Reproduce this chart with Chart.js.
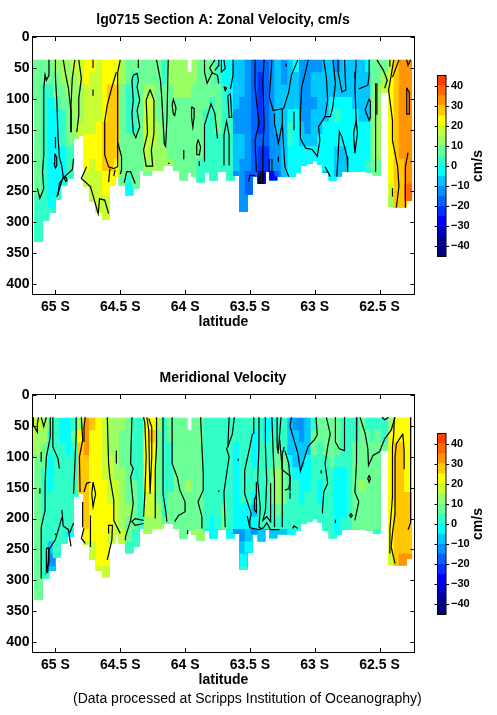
<!DOCTYPE html>
<html>
<head>
<meta charset="utf-8">
<script src="https://cdn.jsdelivr.net/npm/chart.js@4"></script>
<style>
  body { margin: 0; background: #fff; }
  #page { position: relative; width: 497px; height: 715px; overflow: hidden; }
  canvas { position: absolute; }
  #note { position: absolute; left: 73px; top: 690px; font: 14px "Liberation Sans", sans-serif; white-space: nowrap; }
</style>
</head>
<body>
<div id="page">
  <canvas id="zonal-chart" width="446" height="345" style="left:0;top:0"></canvas>
  <canvas id="zonal-bar" width="67" height="345" style="left:430px;top:0"></canvas>
  <canvas id="meridional-chart" width="446" height="345" style="left:0;top:358px"></canvas>
  <canvas id="meridional-bar" width="67" height="345" style="left:430px;top:358px"></canvas>
  <div id="note">(Data processed at Scripps Institution of Oceanography)</div>
</div>
<script>
const latTicks = [65, 64.5, 64, 63.5, 63, 62.5];
const depthTicks = [0, 50, 100, 150, 200, 250, 300, 350, 400];
const speedTicks = [-40, -30, -20, -10, 0, 10, 20, 30, 40];

// colour bands, 5 cm/s each, from -45 up to 45
const bandColors = ["#00007d", "#000096", "#0000c8", "#0000ff", "#0032ff", "#0064ff", "#0096ff", "#00c8ff", "#00ffff",
  "#32ffc8", "#6bff96", "#9bff64", "#c8ff32", "#ffff00", "#ffc800", "#ff9500", "#ff6a00", "#ff4000"];

// station latitudes and the depth where the data stops at each one
const lats = [65.17, 65.13, 65.08, 65.03, 64.99, 64.94, 64.89, 64.85, 64.80, 64.75, 64.71, 64.66, 64.61, 64.57, 64.52, 64.48,
  64.43, 64.38, 64.34, 64.29, 64.25, 64.20, 64.15, 64.11, 64.06, 64.01, 63.97, 63.92, 63.88, 63.83, 63.78, 63.74,
  63.69, 63.65, 63.60, 63.55, 63.51, 63.46, 63.41, 63.37, 63.32, 63.28, 63.23, 63.18, 63.14, 63.09, 63.05, 63.00,
  62.95, 62.91, 62.86, 62.82, 62.77, 62.72, 62.68, 62.63, 62.58, 62.54, 62.52, 62.46, 62.40, 62.36, 62.32, 62.28];
const floors = [100, 332, 297, 285, 264, 240, 230, 165, 160, 243, 267, 285, 295, 240, 226, 240,
  256, 245, 216, 224, 216, 216, 208, 208, 216, 232, 220, 226, 235, 220, 232, 218,
  218, 232, 225, 283, 255, 226, 237, 218, 232, 226, 226, 226, 220, 208, 205, 200,
  206, 220, 232, 226, 218, 218, 218, 218, 220, 218, 225, 90, 275, 276, 276, 265];
const rowDepths = [37, 57, 77, 97, 117, 137, 157, 177, 197, 217, 237, 257, 277, 297, 317];

// velocity per station, top row first
const zonal = [
  [7,7,7,7],
  [7,7,7,7,7,7,7,7,7,7,7,2,2,2,2],
  [7,7,2,2,2,2,2,2,2,2,2,2,2],
  [7,7,2,-2,-2,-2,-2,-2,-2,-2,-2,-2,2],
  [12,7,7,2,-2,-2,-2,-2,-2,-2,-2,2],
  [12,12,7,7,2,2,2,-2,-2,-2,2],
  [12,12,12,7,7,7,7,2,2,2],
  [17,12,12,12,12,12,12],
  [17,17,12,12,12,17,17],
  [22,22,17,17,17,17,22,22,22,17,17],
  [22,17,17,17,17,17,22,22,17,17,17,17],
  [17,17,17,17,17,22,22,22,22,17,17,17,17],
  [22,22,22,22,22,27,27,27,27,22,22,17,17],
  [22,22,27,27,27,27,27,27,27,22,22],
  [22,22,27,27,27,27,27,27,22,22],
  [12,12,7,7,7,7,7,7,7,7,7],
  [7,7,2,2,2,2,7,7,7,2,-2],
  [7,2,2,2,2,2,7,7,7,7,7],
  [7,7,7,7,7,7,7,7,7],
  [7,7,12,17,17,17,17,17,12,7],
  [7,7,12,17,17,17,17,12,12],
  [7,7,7,7,7,12,12,12,12],
  [2,2,7,7,7,7,7,12,12],
  [12,12,7,7,7,7,7,7,12],
  [12,12,12,7,7,7,7,7,7],
  [12,12,12,7,7,7,7,7,7,7],
  [null,12,12,7,7,7,7,7,7,7],
  [12,12,7,7,7,7,7,7,7,7],
  [7,7,7,7,7,7,7,7,2,2],
  [7,7,7,7,2,2,2,2,2,2],
  [7,7,7,2,2,2,2,2,2,2],
  [2,2,7,7,7,7,2,2,2,2],
  [-2,-2,2,2,2,2,2,2,2,2],
  [-2,-2,-2,-2,2,2,2,2,2,2],
  [-7,-7,-7,-7,-12,-12,-7,-7,-7,-12],
  [-7,-7,-7,-12,-12,-12,-7,-7,-12,-12,-12,-12,-12],
  [-12,-12,-12,-12,-12,-12,-12,-12,-12,-17,-17],
  [-17,-17,-17,-17,-17,-17,-17,-17,-17,-17],
  [-17,-22,-22,-22,-22,-22,-17,-22,-22,-32],
  [-17,-17,-17,-17,-17,-17,-17,-22,-22,-22],
  [-12,-12,-12,-12,-12,-12,-12,-12,-12,-27],
  [-7,-7,-7,-7,-7,-7,-12,-12,-12,-17],
  [-12,-12,-7,-7,-7,-7,-7,-7,-7,-7],
  [-7,-7,-7,-7,-2,2,2,-2,-2,-2],
  [-2,-7,-7,-7,-2,-2,-2,-2,-2,-2],
  [-12,-12,-12,-12,-12,-7,-7,-2,-2],
  [-12,-12,-12,-12,-12,-12,-7,-2,-2],
  [-12,-7,-7,-12,-7,-7,-7,-2,-2],
  [-12,-7,-7,-7,-7,-7,-2,-2,-2],
  [-7,-7,-7,-7,-7,-2,-2,-2,-2,-7],
  [-7,-7,-7,-2,-2,-2,-2,-2,-2,-2],
  [-12,-7,-7,-2,2,-2,-2,-7,-7,-7],
  [-7,-7,-7,-2,-2,-2,-2,-7,-7,-7],
  [-7,-7,-7,-2,-2,-2,-2,-2,-2,-2],
  [-7,-7,-7,-7,-2,-2,-2,-2,-2,-2],
  [-7,-7,-7,-7,-7,-2,-2,-2,-2,-2],
  [-2,-7,-7,-7,-7,-2,-2,-2,2,2],
  [7,7,7,7,7,7,7,7,7,7],
  [7,7,12,12,12,12,12,12,7,7],
  [7,12,17],
  [17,22,22,22,22,22,22,22,22,22,17,12,12],
  [27,27,27,27,27,27,27,27,27,27,27,27,22],
  [32,32,32,32,32,32,32,32,27,27,27,27,27],
  [32,32,32,32,32,32,32,32,32,32,37,37],
];

const meridional = [
  [17,17,12,7],
  [17,12,12,7,7,7,7,7,7,7,7,7,7,7,7],
  [12,12,7,7,2,2,2,2,2,2,2,2,2],
  [7,2,2,-2,-2,-2,2,2,2,2,-7,-12,-7],
  [2,2,2,2,2,2,2,2,2,2,2,2],
  [-2,-2,2,2,2,2,2,2,2,2,2],
  [-2,-2,-2,2,2,2,2,2,2,-2],
  [2,7,2,2,2,2,2],
  [12,22,27,27,27,27,27],
  [32,32,32,27,27,27,27,27,27,22,17],
  [27,22,22,22,22,22,22,22,22,22,17,17],
  [22,22,22,22,22,22,22,22,22,22,22,22,17],
  [17,17,17,17,17,22,22,22,22,22,22,22,17],
  [12,12,12,17,17,17,17,22,22,17,17],
  [12,12,12,12,12,17,17,17,17,17],
  [12,7,7,7,12,12,12,12,12,17,17],
  [7,7,7,7,7,7,7,12,7,7,2],
  [2,2,2,2,2,7,7,7,7,2,2],
  [2,2,2,2,2,2,2,2,2],
  [22,22,22,22,22,22,17,17,12,12],
  [22,27,22,22,22,22,17,17,12],
  [12,7,7,7,7,7,7,12,12],
  [2,2,2,2,2,2,2,2,7],
  [7,7,2,2,2,2,7,7,7],
  [7,7,7,7,7,7,7,7,7],
  [7,7,7,7,7,7,7,7,7,7],
  [null,7,7,7,7,12,7,7,7,7],
  [7,7,7,7,7,7,7,7,7,12],
  [7,7,7,7,7,7,7,7,7,12],
  [2,2,2,2,2,2,2,2,2,-2],
  [2,2,2,2,2,2,2,2,-2,-2],
  [2,2,2,2,2,2,2,2,2,-2],
  [2,2,2,2,2,2,2,7,7,-2],
  [2,2,2,2,2,2,2,2,2,-2],
  [2,2,-2,-2,-2,-2,-2,-2,-2,-12],
  [2,2,2,2,2,2,2,-2,-2,-12,-7,-2,2],
  [2,2,2,2,2,2,2,-2,-2,-7,-2],
  [2,-2,-2,-2,2,2,-2,-7,-2,-12],
  [2,2,2,2,2,2,2,2,2,-7],
  [-2,-2,2,2,2,2,2,2,2,-12],
  [-2,2,2,2,7,7,7,2,2,-7],
  [2,2,7,7,12,12,12,7,2,-7],
  [2,2,2,7,7,7,7,2,2,-7],
  [-7,-7,-7,-2,2,2,2,2,2,-2],
  [-12,-7,-7,-7,-2,2,2,2,2,-2],
  [-12,-12,-7,-7,-2,-2,-2,2,2],
  [-7,-7,-7,-2,-2,-2,2,2,2],
  [2,7,7,2,2,2,2,2,2],
  [7,7,2,2,2,-2,-2,2,2],
  [7,7,7,2,2,2,2,2,2,2],
  [7,7,7,7,2,2,2,2,2,2],
  [7,7,7,2,-2,-2,-2,-2,-2,-2],
  [2,2,2,2,-2,-2,-2,-2,2,2],
  [2,2,2,2,2,2,2,2,2,2],
  [2,2,7,7,7,7,7,7,7,2],
  [7,7,7,7,7,12,7,7,7,7],
  [2,7,7,7,7,7,7,7,7,7],
  [2,2,7,7,7,7,7,7,7,7],
  [2,7,7,7,7,7,7,7,7,2],
  [2,2,7],
  [12,22,22,22,22,22,22,22,22,22,22,17,17],
  [22,22,27,27,27,27,27,27,27,27,27,27,22],
  [22,22,27,27,27,27,27,27,27,27,27,32,27],
  [22,22,22,22,22,22,27,27,27,27,27,32],
];

// contour lines as [latitude, depth] pairs
const zonalContours = [
  [[65.05,37],[65.05,62],[65.07,70],[65.08,61],[65.09,84],[65.09,121],[65.09,164],[65.09,191],[65.10,218],[65.09,245],[65.12,261],[65.14,245]],
  [[65.00,37],[65.00,65],[64.99,102],[64.98,162],[64.97,194],[64.95,210],[64.94,226],[64.99,259]],
  [[65.00,162],[65.00,180]],
  [[65.005,189],[64.99,195],[64.99,208],[65.00,212],[65.01,205],[65.005,189]],
  [[64.94,37],[64.92,62],[64.90,83],[64.88,121],[64.88,154]],
  [[64.85,37],[64.87,67],[64.88,110],[64.88,154]],
  [[64.82,37],[64.80,67],[64.82,100],[64.82,127],[64.835,154]],
  [[64.86,197],[64.87,215],[64.93,226],[64.97,237],[64.98,256]],
  [[64.92,226],[64.91,232],[64.92,234],[64.93,230],[64.92,226]],
  [[64.71,37],[64.71,50]],
  [[64.71,85],[64.71,95]],
  [[64.53,57],[64.56,78],[64.60,110],[64.62,137],[64.62,164],[64.62,191],[64.59,210],[64.55,213],[64.52,210],[64.52,170]],
  [[64.50,37],[64.52,57],[64.52,170],[64.49,194],[64.49,215],[64.50,222]],
  [[64.58,213],[64.59,235]],
  [[64.54,215],[64.55,225]],
  [[64.76,210],[64.80,229],[64.73,242],[64.67,286],[64.66,262],[64.62,264],[64.59,286]],
  [[64.47,236],[64.45,218],[64.42,218],[64.385,237]],
  [[64.40,62],[64.37,59],[64.36,70],[64.37,81],[64.35,102],[64.37,119],[64.35,145],[64.38,163],[64.40,154],[64.41,124],[64.40,102],[64.41,70],[64.40,62]],
  [[64.27,85],[64.24,102],[64.24,156],[64.26,183],[64.25,209],[64.30,209],[64.32,183],[64.29,156],[64.30,102],[64.27,85]],
  [[64.36,37],[64.36,50]],
  [[64.22,37],[64.19,70],[64.18,97],[64.16,173],[64.15,177],[64.14,135],[64.13,37]],
  [[64.10,110],[64.09,101],[64.07,115],[64.08,127],[64.09,125],[64.10,110]],
  [[63.95,113],[63.93,116],[63.93,130],[63.94,146],[63.95,130],[63.95,113]],
  [[63.90,166],[63.88,178],[63.89,191],[63.91,190],[63.91,175],[63.90,166]],
  [[64.01,183],[64.01,198]],
  [[64.12,204],[64.13,205]],
  [[63.89,201],[63.89,209]],
  [[63.85,202],[63.85,143],[63.80,108],[63.77,124],[63.75,164]],
  [[63.85,37],[63.85,57],[63.83,75],[63.79,58],[63.75,62],[63.74,75]],
  [[63.79,58],[63.81,50],[63.77,37]],
  [[63.77,54],[63.74,46],[63.74,37]],
  [[63.72,37],[63.72,57],[63.69,51],[63.70,37]],
  [[63.63,37],[63.63,62],[63.65,84]],
  [[63.70,80],[63.68,83],[63.69,87],[63.70,80]],
  [[63.67,95],[63.65,92],[63.64,130],[63.66,130],[63.67,95]],
  [[63.70,208],[63.70,159],[63.68,136],[63.66,159],[63.66,208]],
  [[63.46,37],[63.46,81],[63.43,140],[63.46,167],[63.45,218]],
  [[63.39,37],[63.40,75],[63.39,140],[63.40,183],[63.40,232]],
  [[63.33,37],[63.35,97],[63.32,119],[63.25,116],[63.25,140],[63.28,172],[63.31,140],[63.31,124]],
  [[63.22,43],[63.22,48]],
  [[63.13,37],[63.18,62],[63.20,89],[63.24,116]],
  [[63.25,140],[63.24,178],[63.23,210],[63.20,226]],
  [[63.16,121],[63.16,151]],
  [[63.28,194],[63.28,202]],
  [[63.35,197],[63.35,218],[63.33,218],[63.33,197]],
  [[63.51,234],[63.50,224],[63.46,224]],
  [[63.43,222],[63.40,222],[63.40,237],[63.43,237],[63.43,222]],
  [[63.42,222],[63.42,237]],
  [[63.05,37],[63.07,56],[63.10,81],[63.11,124],[63.11,164],[63.07,180],[63.02,182],[62.98,193],[62.96,167],[62.97,145],[62.92,129],[62.88,129],[62.86,113],[62.84,75],[62.86,37]],
  [[62.93,37],[62.91,65],[62.90,102],[62.92,129]],
  [[62.82,37],[62.82,56],[62.79,89],[62.76,86],[62.77,37]],
  [[62.68,37],[62.69,81],[62.68,135],[62.70,156],[62.69,188],[62.67,156],[62.68,135]],
  [[62.66,84],[62.59,78],[62.58,62],[62.58,37]],
  [[62.58,100],[62.61,118],[62.58,135],[62.57,130],[62.57,105],[62.58,100]],
  [[62.69,56],[62.69,67]],
  [[62.52,75],[62.52,126]],
  [[62.53,75],[62.53,120],[62.53,218]],
  [[62.52,37],[62.47,54],[62.44,70],[62.46,83]],
  [[62.39,37],[62.41,62],[62.43,86],[62.40,135],[62.40,167],[62.36,210],[62.35,242],[62.37,276]],
  [[62.42,37],[62.42,48]],
  [[62.35,37],[62.40,65]],
  [[62.29,37],[62.28,46],[62.26,37]],
  [[62.29,82],[62.27,90],[62.27,125],[62.29,125],[62.29,82]],
  [[62.28,187],[62.30,210],[62.30,245],[62.30,276]],
  [[62.40,245],[62.40,258]],
  [[62.83,226],[62.82,194],[62.81,153],[62.79,162],[62.75,194],[62.745,218]],
  [[62.92,210],[62.88,226]],
];

const meridionalContours = [
  [[65.17,36],[65.17,49],[65.14,60],[65.14,47],[65.13,36]],
  [[65.11,36],[65.09,51],[65.07,36]],
  [[65.04,36],[65.04,68],[65.07,100],[65.08,143],[65.08,187],[65.11,214],[65.11,267],[65.11,297]],
  [[65.11,92],[65.11,108]],
  [[65.12,151],[65.12,160]],
  [[65.02,36],[65.02,84],[64.98,103],[64.97,119]],
  [[64.84,36],[64.84,63],[64.86,160]],
  [[64.80,36],[64.79,73],[64.815,100],[64.81,157]],
  [[64.77,36],[64.78,52],[64.78,76]],
  [[64.79,173],[64.79,214]],
  [[64.78,216],[64.80,232],[64.77,240]],
  [[64.73,195],[64.73,246]],
  [[64.71,141],[64.69,160],[64.71,181],[64.72,160],[64.71,141]],
  [[64.78,157],[64.76,143],[64.73,141]],
  [[64.60,36],[64.59,111],[64.58,133],[64.55,170],[64.55,203],[64.50,224]],
  [[64.59,224],[64.59,211],[64.56,211],[64.565,235],[64.60,267]],
  [[64.53,90],[64.53,111]],
  [[64.41,36],[64.42,111],[64.40,119],[64.42,133],[64.40,176],[64.42,203],[64.46,230],[64.46,235]],
  [[64.32,203],[64.385,200],[64.41,205],[64.385,211],[64.32,208]],
  [[64.32,36],[64.31,46],[64.30,100],[64.31,160],[64.32,197]],
  [[64.295,36],[64.28,57],[64.275,117],[64.27,160],[64.257,100],[64.257,52],[64.28,38]],
  [[64.22,36],[64.22,84],[64.23,120],[64.23,170],[64.23,200]],
  [[64.17,36],[64.17,84],[64.17,160],[64.15,187],[64.14,205]],
  [[64.10,36],[64.10,63],[64.10,111],[64.06,133],[64.04,154],[64.00,173],[64.00,189],[64.05,195],[64.08,205]],
  [[63.88,36],[63.87,84],[63.86,127],[63.86,154],[63.90,173],[63.87,197],[63.87,216]],
  [[63.98,219],[63.98,225]],
  [[63.74,154],[63.74,157]],
  [[63.66,36],[63.67,84],[63.68,87],[63.66,100],[63.70,157],[63.69,214]],
  [[63.62,36],[63.635,63],[63.67,84]],
  [[63.59,103],[63.59,107]],
  [[63.48,63],[63.50,84],[63.54,122],[63.54,160],[63.49,192],[63.50,203],[63.50,214]],
  [[63.47,36],[63.47,63]],
  [[63.45,141],[63.45,160],[63.465,170],[63.465,186],[63.45,190],[63.45,170],[63.45,160]],
  [[63.43,36],[63.43,84],[63.44,138],[63.42,181],[63.43,214],[63.41,216]],
  [[63.38,36],[63.38,84],[63.37,138],[63.38,187],[63.40,203],[63.37,197],[63.34,205],[63.34,143]],
  [[63.33,36],[63.32,95],[63.31,138],[63.31,170],[63.31,214]],
  [[63.29,36],[63.29,84],[63.28,95]],
  [[63.26,36],[63.27,63],[63.28,90]],
  [[63.234,84],[63.25,95],[63.25,127],[63.25,154],[63.25,214]],
  [[63.52,196],[63.50,215],[63.43,218],[63.395,215],[63.37,207],[63.34,218],[63.27,218]],
  [[63.27,72],[63.25,121],[63.19,131],[63.19,156]],
  [[63.19,158],[63.19,168]],
  [[63.18,36],[63.19,51],[63.13,94],[63.11,123],[63.05,83],[63.00,72],[62.98,64],[62.99,36]],
  [[63.23,90],[63.20,111],[63.19,138],[63.20,152],[63.23,154]],
  [[63.17,216],[63.16,212],[63.13,216]],
  [[62.91,36],[62.88,63],[62.90,84],[62.92,111],[62.90,143],[62.93,157],[62.94,187],[62.94,192]],
  [[62.84,36],[62.84,76],[62.81,87],[62.77,90],[62.77,36]],
  [[62.65,36],[62.61,63],[62.59,87],[62.585,114],[62.55,98],[62.50,92],[62.46,71],[62.41,57],[62.38,36]],
  [[62.58,130],[62.57,135],[62.58,141],[62.59,135],[62.58,130]],
  [[62.675,36],[62.68,57],[62.675,111],[62.69,157],[62.66,173],[62.69,203]],
  [[62.72,192],[62.71,195],[62.72,198],[62.73,195],[62.72,192]],
  [[62.84,202],[62.84,207]],
  [[62.95,122],[62.95,127]],
  [[62.48,36],[62.46,40],[62.43,36]],
  [[62.385,36],[62.39,63],[62.40,84],[62.40,165],[62.42,219],[62.42,257]],
  [[62.32,63],[62.37,79],[62.38,100],[62.38,192],[62.40,224],[62.41,246],[62.38,273]],
  [[62.32,63],[62.31,90],[62.31,120]],
  [[62.26,36],[62.26,127],[62.26,207],[62.28,218]],
  [[64.95,186],[64.94,212],[64.90,218],[64.88,245]],
  [[64.86,207],[64.89,223]],
  [[64.95,198],[65.00,234],[65.05,250],[65.06,288]],
  [[65.07,248],[65.05,248],[65.05,270],[65.07,285],[65.07,248]],
  [[65.00,224],[65.00,227]],
];

const boldFont = { family: "Liberation Sans", size: 14, weight: "bold" };

function bandColor(v) {
  return bandColors[Math.floor((v + 45) / 5)];
}

// box round the plot with ticks pointing inward, like the original
const framePlugin = {
  id: "frame",
  afterDraw(chart) {
    const { ctx, chartArea: a, scales } = chart;
    ctx.save();
    ctx.strokeStyle = "#000";
    ctx.lineWidth = 1;
    ctx.beginPath();
    scales.x.ticks.forEach((t) => {
      const px = Math.round(scales.x.getPixelForValue(t.value)) + 0.5;
      ctx.moveTo(px, a.top); ctx.lineTo(px, a.top + 4);
      ctx.moveTo(px, a.bottom); ctx.lineTo(px, a.bottom - 4);
    });
    scales.y.ticks.forEach((t) => {
      const py = Math.round(scales.y.getPixelForValue(t.value)) + 0.5;
      ctx.moveTo(a.left, py); ctx.lineTo(a.left + 4, py);
      ctx.moveTo(a.right, py); ctx.lineTo(a.right - 4, py);
    });
    ctx.stroke();
    ctx.strokeRect(a.left, a.top - 0.5, a.right - a.left, a.bottom - a.top + 1);
    ctx.restore();
  },
};

// colour bar outline, outward ticks and the rotated unit label
const barPlugin = {
  id: "barFrame",
  afterDraw(chart) {
    const { ctx, chartArea: a, scales } = chart;
    ctx.save();
    ctx.strokeStyle = "#000";
    ctx.lineWidth = 1;
    ctx.beginPath();
    scales.y.ticks.forEach((t) => {
      const py = Math.round(scales.y.getPixelForValue(t.value)) + 0.5;
      ctx.moveTo(a.left - 3, py); ctx.lineTo(a.left, py);
      ctx.moveTo(a.right, py); ctx.lineTo(a.right + 3, py);
    });
    ctx.stroke();
    ctx.strokeRect(a.left, a.top, a.right - a.left, a.bottom - a.top);
    ctx.translate(48, (a.top + a.bottom) / 2);
    ctx.rotate(-Math.PI / 2);
    ctx.font = "bold 14px 'Liberation Sans'";
    ctx.fillStyle = "#000";
    ctx.textAlign = "center";
    ctx.textBaseline = "middle";
    ctx.fillText("cm/s", 0, 0);
    ctx.restore();
  },
};

function sectionChart(id, title, values, contours) {
  // one bar dataset per depth row, deep rows painted last so no seams show
  const rows = rowDepths.map((top, r) => {
    const data = [];
    const colors = [];
    lats.forEach((lat, i) => {
      const v = values[i][r];
      if (v === undefined || v === null || top >= floors[i]) return;
      data.push({ x: lat, y: [top, floors[i]] });
      colors.push(bandColor(v));
    });
    return {
      type: "bar",
      data: data,
      backgroundColor: colors,
      grouped: false,
      barPercentage: 4,
      categoryPercentage: 1,
      maxBarThickness: 8,
      order: 100 - r,
    };
  });
  const lines = contours.map((c) => ({
    type: "line",
    data: c.map((p) => ({ x: p[0], y: p[1] })),
    borderColor: "#000",
    borderWidth: 1.2,
    pointRadius: 0,
    tension: 0,
    order: 1,
  }));

  new Chart(document.getElementById(id), {
    data: { datasets: rows.concat(lines) },
    plugins: [framePlugin],
    options: {
      responsive: false,
      animation: false,
      plugins: {
        legend: { display: false },
        tooltip: { enabled: false },
        title: {
          display: true,
          text: title,
          color: "#000",
          font: boldFont,
          padding: { top: 12, bottom: 8.2 },
        },
      },
      scales: {
        x: {
          type: "linear",
          reverse: true,
          offset: false,
          min: 62.23,
          max: 65.177,
          grid: { display: false, drawTicks: false, offset: false },
          border: { display: false },
          afterBuildTicks: (s) => { s.ticks = latTicks.map((v) => ({ value: v })); },
          afterFit: (s) => { s.height = 51; },
          ticks: { color: "#000", font: boldFont, padding: 5, autoSkip: false, maxRotation: 0, callback: (v) => v + " S" },
          title: { display: true, text: "latitude", color: "#000", font: boldFont, padding: { top: 0, bottom: 14 } },
        },
        y: {
          type: "linear",
          reverse: true,
          min: 0,
          max: 416,
          grid: { display: false, drawTicks: false },
          border: { display: false },
          afterBuildTicks: (s) => { s.ticks = depthTicks.map((v) => ({ value: v })); },
          afterFit: (s) => { s.width = 32.5; },
          ticks: { color: "#000", font: boldFont, padding: 3, autoSkip: false },
        },
        // empty axis, only keeps the title centred over the plot box
        spare: {
          type: "linear",
          position: "right",
          grid: { display: false, drawTicks: false },
          border: { display: false },
          ticks: { display: false },
          afterFit: (s) => { s.width = 31.5; },
        },
      },
    },
  });
}

function colorBar(id) {
  new Chart(document.getElementById(id), {
    type: "bar",
    data: {
      labels: [""],
      datasets: bandColors.map((color, i) => ({
        data: [[-45 + i * 5, -40 + i * 5]],
        backgroundColor: color,
        grouped: false,
        barPercentage: 1,
        categoryPercentage: 1,
      })),
    },
    plugins: [barPlugin],
    options: {
      responsive: false,
      animation: false,
      layout: { padding: { top: 75.5, bottom: 88.5, left: 7.5 } },
      plugins: { legend: { display: false }, tooltip: { enabled: false } },
      scales: {
        x: { display: false },
        y: {
          position: "right",
          min: -45,
          max: 45,
          grid: { display: false, drawTicks: false },
          border: { display: false },
          afterBuildTicks: (s) => { s.ticks = speedTicks.map((v) => ({ value: v })); },
          afterFit: (s) => { s.width = 51; },
          ticks: {
            color: "#000",
            font: { family: "Liberation Sans", size: 11, weight: "bold" },
            padding: 5,
            autoSkip: false,
            callback: (v) => (v < 0 ? "\u2212" + Math.abs(v) : "" + v),
          },
        },
      },
    },
  });
}

sectionChart("zonal-chart", "lg0715 Section A: Zonal Velocity, cm/s", zonal, zonalContours);
sectionChart("meridional-chart", "Meridional Velocity", meridional, meridionalContours);
colorBar("zonal-bar");
colorBar("meridional-bar");
</script>
</body>
</html>
